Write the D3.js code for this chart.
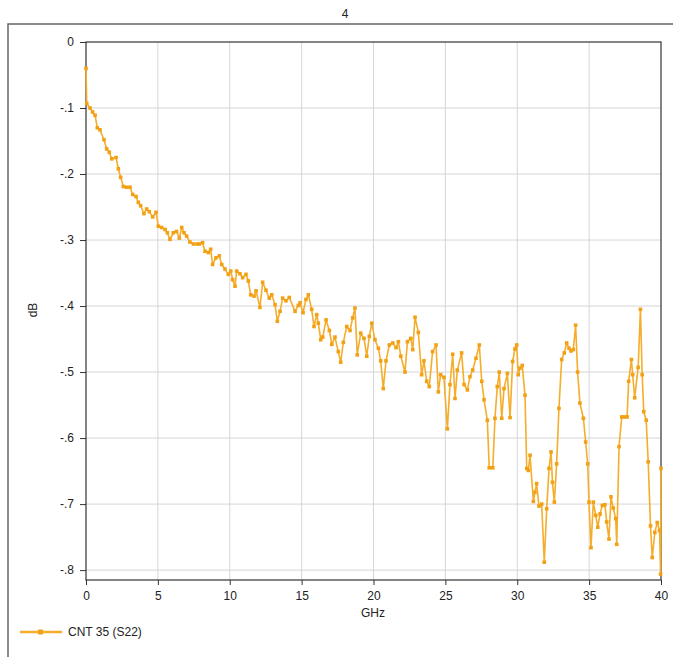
<!DOCTYPE html>
<html>
<head>
<meta charset="utf-8">
<script src="https://cdn.jsdelivr.net/npm/d3@7"></script>
<style>
  body { margin: 0; background: #fff; }
  svg text { font-family: "Liberation Sans", Arial, sans-serif; fill: #222; }
</style>
</head>
<body>
<svg id="chart" width="673" height="657"></svg>
<script>
// frequency (GHz) and S22 (dB)
var freq = [0.00, 0.05, 0.28, 0.46, 0.63, 0.79, 0.97, 1.25, 1.44, 1.62, 1.79, 2.09, 2.25, 2.41, 2.60, 2.83, 3.06, 3.25, 3.48, 3.64,
    3.80, 4.03, 4.22, 4.40, 4.64, 4.87, 5.03, 5.26, 5.50, 5.66, 5.84, 6.07, 6.30, 6.49, 6.66, 6.82, 7.00, 7.23, 7.47, 7.74,
    7.88, 8.11, 8.28, 8.51, 8.67, 8.81, 9.04, 9.27, 9.44, 9.67, 9.90, 10.07, 10.20, 10.37, 10.48, 10.71, 10.90, 11.13, 11.29, 11.46,
    11.69, 11.83, 12.10, 12.29, 12.52, 12.75, 12.92, 13.15, 13.31, 13.50, 13.68, 13.91, 14.14, 14.54, 14.77, 14.89, 15.10, 15.30, 15.47, 15.70,
    15.86, 16.05, 16.16, 16.33, 16.47, 16.70, 16.93, 17.10, 17.32, 17.55, 17.72, 17.90, 18.14, 18.37, 18.55, 18.71, 18.87, 19.11, 19.34, 19.53,
    19.71, 19.88, 20.10, 20.34, 20.50, 20.68, 20.87, 21.10, 21.34, 21.57, 21.73, 21.90, 22.19, 22.36, 22.59, 22.73, 22.89, 23.12, 23.35, 23.51,
    23.70, 23.88, 24.11, 24.35, 24.51, 24.67, 24.90, 25.14, 25.32, 25.51, 25.67, 25.83, 26.13, 26.30, 26.53, 26.71, 26.90, 27.13, 27.36, 27.53,
    27.69, 27.92, 28.05, 28.30, 28.45, 28.61, 28.75, 28.92, 29.08, 29.31, 29.50, 29.68, 29.84, 29.96, 30.07, 30.19, 30.35, 30.54, 30.66, 30.77,
    30.89, 31.12, 31.23, 31.35, 31.51, 31.70, 31.88, 32.05, 32.21, 32.35, 32.45, 32.58, 32.74, 32.90, 33.09, 33.27, 33.44, 33.60, 33.74, 33.90,
    34.06, 34.20, 34.36, 34.60, 34.76, 34.90, 34.99, 35.13, 35.29, 35.46, 35.60, 35.76, 35.92, 36.10, 36.22, 36.38, 36.52, 36.68, 36.85, 36.92,
    37.08, 37.27, 37.45, 37.64, 37.75, 37.94, 38.03, 38.17, 38.41, 38.57, 38.69, 38.80, 38.97, 39.11, 39.27, 39.39, 39.57, 39.74, 39.90, 39.97,
    40.00];
var s22 = [-0.040, -0.093, -0.100, -0.106, -0.111, -0.130, -0.133, -0.148, -0.162, -0.167, -0.177, -0.175, -0.192, -0.205, -0.219, -0.220, -0.220, -0.231, -0.234, -0.243,
    -0.248, -0.260, -0.253, -0.257, -0.265, -0.258, -0.279, -0.281, -0.284, -0.289, -0.299, -0.289, -0.287, -0.297, -0.281, -0.289, -0.294, -0.303, -0.306, -0.306,
    -0.306, -0.304, -0.317, -0.319, -0.314, -0.337, -0.327, -0.324, -0.337, -0.344, -0.352, -0.347, -0.360, -0.370, -0.347, -0.351, -0.357, -0.352, -0.362, -0.383,
    -0.385, -0.377, -0.402, -0.364, -0.376, -0.388, -0.383, -0.398, -0.423, -0.408, -0.388, -0.392, -0.387, -0.408, -0.399, -0.395, -0.410, -0.390, -0.383, -0.405,
    -0.431, -0.413, -0.426, -0.451, -0.447, -0.421, -0.437, -0.458, -0.447, -0.469, -0.485, -0.455, -0.431, -0.437, -0.418, -0.403, -0.474, -0.441, -0.449, -0.476,
    -0.446, -0.426, -0.451, -0.464, -0.483, -0.525, -0.483, -0.459, -0.456, -0.463, -0.454, -0.476, -0.500, -0.454, -0.449, -0.466, -0.417, -0.440, -0.504, -0.483,
    -0.514, -0.522, -0.469, -0.459, -0.530, -0.504, -0.508, -0.586, -0.519, -0.473, -0.540, -0.497, -0.471, -0.519, -0.527, -0.507, -0.497, -0.479, -0.459, -0.514,
    -0.542, -0.573, -0.645, -0.645, -0.570, -0.522, -0.500, -0.570, -0.525, -0.502, -0.569, -0.484, -0.465, -0.459, -0.504, -0.494, -0.490, -0.535, -0.646, -0.649,
    -0.626, -0.696, -0.682, -0.669, -0.703, -0.700, -0.788, -0.707, -0.646, -0.621, -0.667, -0.697, -0.639, -0.555, -0.481, -0.471, -0.456, -0.464, -0.468, -0.466,
    -0.429, -0.500, -0.547, -0.570, -0.606, -0.639, -0.697, -0.766, -0.697, -0.717, -0.735, -0.715, -0.702, -0.701, -0.727, -0.753, -0.689, -0.706, -0.722, -0.761,
    -0.613, -0.568, -0.568, -0.568, -0.514, -0.481, -0.504, -0.539, -0.493, -0.405, -0.504, -0.560, -0.573, -0.636, -0.733, -0.781, -0.743, -0.728, -0.740, -0.806,
    -0.646];
var xTicks = [0, 5, 10, 15, 20, 25, 30, 35, 40];
var yTicks = [0, -0.1, -0.2, -0.3, -0.4, -0.5, -0.6, -0.7, -0.8];
var seriesName = "CNT 35 (S22)";

(function() {
    var svg = d3.select('#chart');
    var lineColour = '#f5ad2c';
    var markColour = '#f2a114';

    var left = 86, right = 661, plotTop = 42, bottom = 580;

    var x = d3.scaleLinear().domain([0, 40]).range([left, right]);
    var y = d3.scaleLinear().domain([-0.815, 0]).range([bottom, plotTop]);

    // outer frame
    svg.append('rect')
        .attr('x', 8).attr('y', 24)
        .attr('width', 680).attr('height', 650)
        .attr('fill', 'none')
        .attr('stroke', '#666')
        .attr('stroke-width', 1.5);

    svg.append('text')
        .attr('x', 345).attr('y', 18)
        .attr('text-anchor', 'middle')
        .style('font-size', '12px')
        .text('4');

    // grid
    svg.append('g').selectAll('line').data(xTicks.slice(1, -1))
        .enter().append('line')
        .attr('x1', function(d) { return x(d); }).attr('x2', function(d) { return x(d); })
        .attr('y1', plotTop).attr('y2', bottom)
        .attr('stroke', '#d6d6d6');
    svg.append('g').selectAll('line').data(yTicks.slice(1))
        .enter().append('line')
        .attr('x1', left).attr('x2', right)
        .attr('y1', function(d) { return y(d); }).attr('y2', function(d) { return y(d); })
        .attr('stroke', '#d6d6d6');

    function fmt(d) {
        if (d === 0) return '0';
        return '-' + d3.format('.1f')(-d).replace(/^0/, '');
    }

    var xAxis = svg.append('g')
        .attr('transform', 'translate(0,' + bottom + ')')
        .call(d3.axisBottom(x).tickValues(xTicks).tickSize(5).tickPadding(6).tickFormat(d3.format('d')));
    var yAxis = svg.append('g')
        .attr('transform', 'translate(' + left + ',0)')
        .call(d3.axisLeft(y).tickValues(yTicks).tickSize(6).tickPadding(6).tickFormat(fmt));
    [xAxis, yAxis].forEach(function(a) {
        a.select('.domain').remove();
        a.selectAll('line').attr('stroke', '#333');
        a.selectAll('text').style('font-size', '12px').style('font-family', '"Liberation Sans", Arial, sans-serif').attr('fill', '#222');
    });

    // plot frame
    svg.append('rect')
        .attr('x', left).attr('y', plotTop)
        .attr('width', right - left).attr('height', bottom - plotTop)
        .attr('fill', 'none')
        .attr('stroke', '#333')
        .attr('stroke-width', 1.2);

    var data = freq.map(function(f, i) { return { f: f, v: s22[i] }; });

    var line = d3.line()
        .x(function(d) { return x(d.f); })
        .y(function(d) { return y(d.v); });

    svg.append('path')
        .datum(data)
        .attr('d', line)
        .attr('fill', 'none')
        .attr('stroke', lineColour)
        .attr('stroke-width', 1.6)
        .attr('stroke-linejoin', 'round');

    svg.append('g').selectAll('rect').data(data)
        .enter().append('rect')
        .attr('x', function(d) { return x(d.f) - 1.8; })
        .attr('y', function(d) { return y(d.v) - 1.8; })
        .attr('width', 3.6).attr('height', 3.6)
        .attr('fill', markColour);

    // axis titles
    svg.append('text')
        .attr('transform', 'translate(37,310) rotate(-90)')
        .attr('text-anchor', 'middle')
        .style('font-size', '12px')
        .text('dB');
    svg.append('text')
        .attr('x', 373).attr('y', 617)
        .attr('text-anchor', 'middle')
        .style('font-size', '12px')
        .text('GHz');

    // legend
    svg.append('line')
        .attr('x1', 20).attr('x2', 62)
        .attr('y1', 632).attr('y2', 632)
        .attr('stroke', lineColour)
        .attr('stroke-width', 2.5);
    svg.append('rect')
        .attr('x', 38).attr('y', 629.5)
        .attr('width', 5).attr('height', 5)
        .attr('fill', markColour);
    svg.append('text')
        .attr('x', 68).attr('y', 636)
        .style('font-size', '12px')
        .text(seriesName);
})();
</script>
</body>
</html>
